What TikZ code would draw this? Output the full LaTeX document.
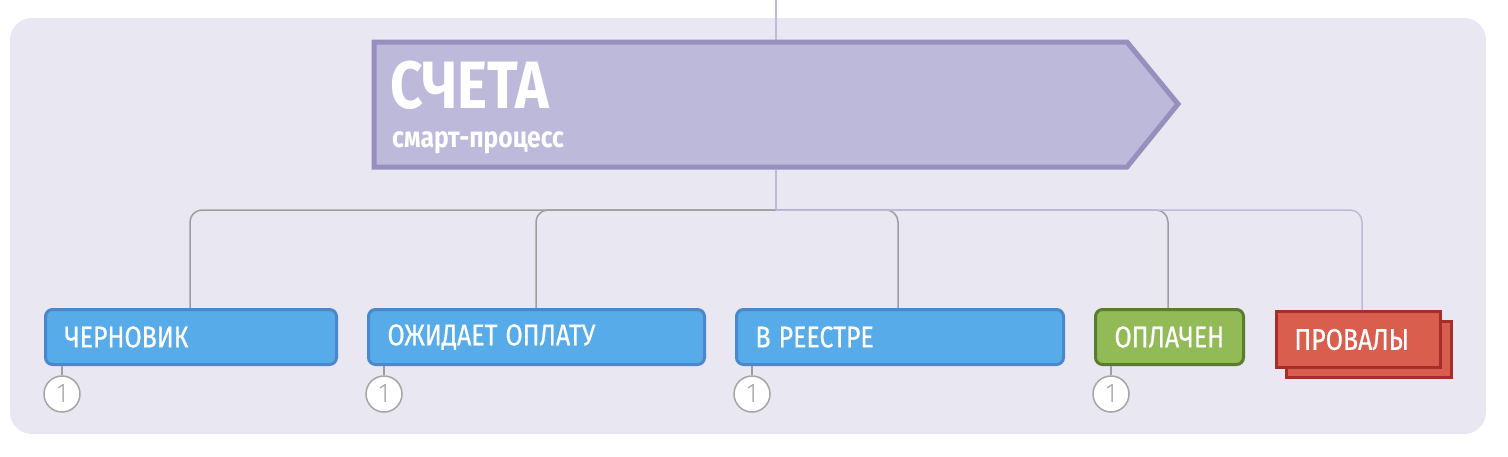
\documentclass[tikz,border=0pt]{standalone}
\usepackage{fontspec}
\setmainfont{Fira Sans}[FakeStretch=0.85]
\newfontfamily\boxfont{Fira Sans}[FakeStretch=0.83, FakeBold=0.6]
\newfontfamily\numfont{Fira Sans Light}[FakeStretch=0.9]
\newcommand{\wsp}{\hspace{8pt}}
\definecolor{outerbg}{HTML}{FFFFFF}
\definecolor{panel}{HTML}{E9E7F1}
\definecolor{mainfill}{HTML}{BDB9DA}
\definecolor{mainline}{HTML}{978FBE}
\definecolor{grayline}{HTML}{9E9E9E}
\definecolor{lavline}{HTML}{BDB9DA}
\definecolor{bluefill}{HTML}{56ABE8}
\definecolor{blueline}{HTML}{4A88CB}
\definecolor{greenfill}{HTML}{92BA56}
\definecolor{greenline}{HTML}{5B7B2D}
\definecolor{redfill}{HTML}{D95E4D}
\definecolor{redline}{HTML}{A42F2A}
\definecolor{badgeline}{HTML}{A5A5A5}
\tikzset{
  childbox/.style={draw, line width=3pt, rounded corners=7pt, minimum height=55pt,
    inner xsep=19pt, align=left, text=white, anchor=north west,
    font=\boxfont\fontsize{30}{30}\selectfont},
  bluebox/.style={childbox, fill=bluefill, draw=blueline},
  greenbox/.style={childbox, fill=greenfill, draw=greenline},
  redbox/.style={draw=redline, fill=redfill, line width=3pt, minimum height=56pt,
    inner xsep=18pt, align=left, text=white, anchor=north west,
    font=\boxfont\fontsize{30}{30}\selectfont},
  badge/.style={circle, draw=badgeline, fill=white, line width=1.5pt, minimum size=36pt,
    inner sep=0pt, text=badgeline, font=\numfont\fontsize{27}{27}\selectfont},
  gconn/.style={draw=grayline, line width=1.5pt, rounded corners=12pt},
  lconn/.style={draw=lavline, line width=1.5pt, rounded corners=12pt},
  stub/.style={draw=grayline, line width=1.5pt}
}
\begin{document}
\begin{tikzpicture}[x=1pt, y=-1pt]
\useasboundingbox (0,0) rectangle (1508,456);
\fill[outerbg] (0,0) rectangle (1508,456);
\fill[panel, rounded corners=22pt] (10,18) rectangle (1486,434);

% top connector
\coordinate (top) at (776,0);
\coordinate (maintop) at (776,40);
\coordinate (mainbot) at (776,170);
\coordinate (hub) at (776,210);
\draw[lconn] (top) -- (maintop);

% main arrow
\draw[fill=mainfill, draw=mainline, line width=5pt, line join=miter]
  (374,42) -- (1127,42) -- (1178,104) -- (1127,167) -- (374,167) -- cycle;
\node[anchor=base west, inner sep=0pt, text=white, font=\bfseries\fontsize{67}{67}\selectfont] (title) at (390,108) {СЧЕТА};
\node[anchor=base west, inner sep=0pt, text=white, font=\bfseries\fontsize{29}{29}\selectfont] (sub) at (392,147) {смарт-процесс};

% children
\node[bluebox, text width=253pt] (c1) at (44,308) {ЧЕРНОВИК};
\node[bluebox, text width=298pt] (c2) at (367,308) {ОЖИДАЕТ\wsp ОПЛАТУ};
\node[bluebox, text width=289pt] (c3) at (735,308) {В\wsp РЕЕСТРЕ};
\node[greenbox, text width=110pt, inner xsep=19pt] (c4) at (1094,308) {ОПЛАЧЕН};
\node[redbox, minimum width=165pt] (c5back) at (1285,320) {};
\node[redbox, text width=128pt] (c5) at (1275,310) {ПРОВАЛЫ};

% connectors
\coordinate (k1) at (190,308);
\coordinate (k2) at (536,308);
\coordinate (k3) at (898,308);
\coordinate (k4) at (1168,308);
\coordinate (k5) at (1362,310);
\draw[gconn] (hub) -| (k1);
\draw[gconn] (hub) -| (k2);
\draw[gconn] (hub) -| (k3);
\draw[gconn] (hub) -| (k4);
\draw[lconn] (hub) -| (k5);
\draw[lconn] (mainbot) -- (hub);

% badges
\node[badge] (b1) at (62,394) {1};
\node[badge] (b2) at (384,394) {1};
\node[badge] (b3) at (752,394) {1};
\node[badge] (b4) at (1111,394) {1};
\draw[stub] (c1.south -| b1) -- (b1.north);
\draw[stub] (c2.south -| b2) -- (b2.north);
\draw[stub] (c3.south -| b3) -- (b3.north);
\draw[stub] (c4.south -| b4) -- (b4.north);
\end{tikzpicture}
\end{document}
